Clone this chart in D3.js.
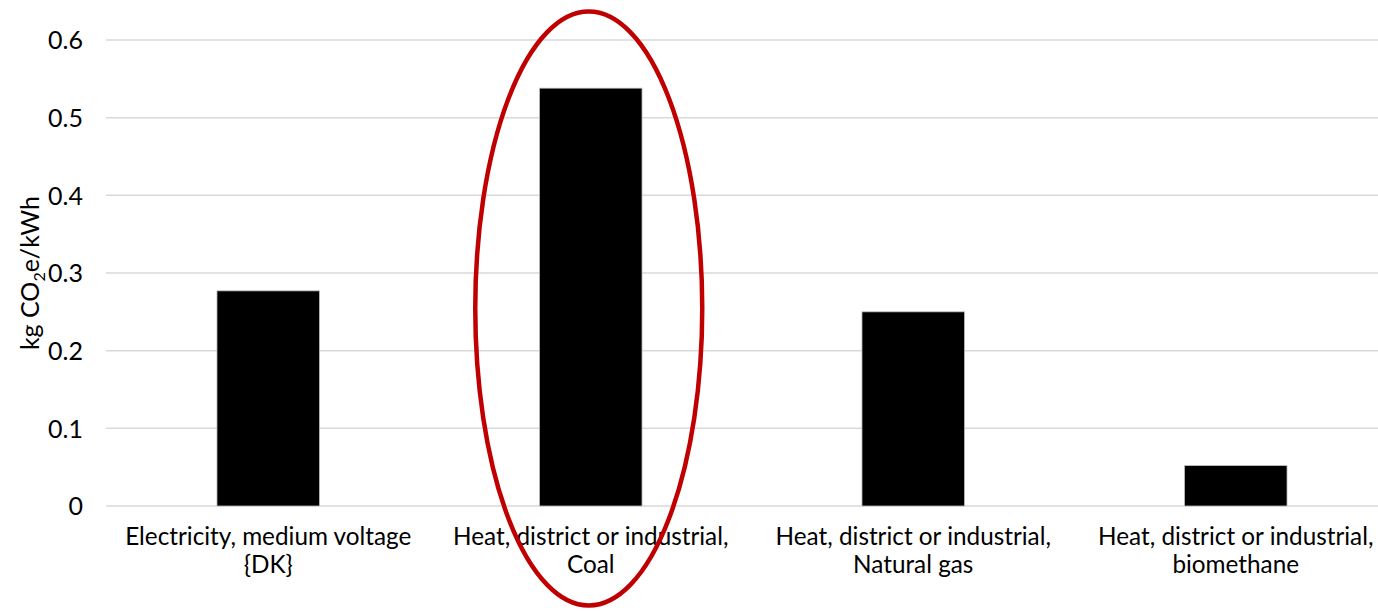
<!DOCTYPE html>
<html>
<head>
<meta charset="utf-8">
<script src="https://cdn.jsdelivr.net/npm/d3@7"></script>
<style>
  html, body { margin: 0; padding: 0; background: #fff; }
  svg { display: block; font-family: Lato, "Open Sans", sans-serif; }
</style>
</head>
<body>
<svg id="chart" width="1378" height="611"></svg>
<script>
// Emission factors, kg CO2e per kWh
const categories = [
  ["Electricity, medium voltage", "{DK}"],
  ["Heat, district or industrial,", "Coal"],
  ["Heat, district or industrial,", "Natural gas"],
  ["Heat, district or industrial,", "biomethane"]
];
const values = [0.277, 0.538, 0.250, 0.052];
const yTicks = [0, 0.1, 0.2, 0.3, 0.4, 0.5, 0.6];
const highlighted = 1; // category circled in red

const svg = d3.select("#chart");
const plot = { left: 107, right: 1397, top: 40, bottom: 506 };

const x = d3.scaleBand()
  .domain(d3.range(categories.length))
  .range([plot.left, plot.right])
  .paddingInner(0.682)
  .paddingOuter(0.341);

const y = d3.scaleLinear()
  .domain([0, 0.6])
  .range([plot.bottom, plot.top]);

// Horizontal gridlines
svg.append("g")
  .selectAll("line")
  .data(yTicks)
  .join("line")
  .attr("x1", plot.left - 1)
  .attr("x2", plot.right)
  .attr("y1", d => y(d))
  .attr("y2", d => y(d))
  .attr("stroke", "#d9d9d9")
  .attr("stroke-width", 1.5);

// Y axis tick labels
const yAxis = d3.axisLeft(y)
  .tickValues(yTicks)
  .tickFormat(d => d === 0 ? "0" : d3.format(".1f")(d))
  .tickSize(0)
  .tickPadding(0);

svg.append("g")
  .attr("transform", `translate(83,0)`)
  .call(yAxis)
  .call(g => g.select(".domain").remove())
  .call(g => g.selectAll("text")
    .attr("font-family", "Lato, sans-serif")
    .attr("font-size", 25)
    .attr("fill", "#000")
    .attr("dy", "0.35em"));

// Y axis title with subscript
const title = svg.append("text")
  .attr("transform", "translate(39,273) rotate(-90)")
  .attr("text-anchor", "middle")
  .attr("font-size", 25)
  .attr("fill", "#000");
title.append("tspan").text("kg CO");
title.append("tspan").attr("font-size", 16).attr("dy", 6).text("2");
title.append("tspan").attr("dy", -6).text("e/kWh");

// Bars
svg.append("g")
  .selectAll("rect")
  .data(values)
  .join("rect")
  .attr("x", (d, i) => x(i))
  .attr("width", x.bandwidth())
  .attr("y", d => y(d))
  .attr("height", d => y(0) - y(d))
  .attr("fill", "#000")
  .attr("stroke", "#bfbfbf")
  .attr("stroke-width", 0.8);

// Category labels, two lines each
const labels = svg.append("g")
  .selectAll("text")
  .data(categories)
  .join("text")
  .attr("x", (d, i) => x(i) + x.bandwidth() / 2)
  .attr("y", 545)
  .attr("text-anchor", "middle")
  .attr("font-size", 24.3)
  .attr("fill", "#000");
labels.selectAll("tspan")
  .data(d => d)
  .join("tspan")
  .attr("x", function() { return this.parentNode.getAttribute("x"); })
  .attr("dy", (d, i) => i === 0 ? 0 : 28)
  .text(d => d);

// Red ellipse around the highlighted category
const cx = x(highlighted) + x.bandwidth() / 2 - 2;
svg.append("ellipse")
  .attr("cx", cx)
  .attr("cy", 308.5)
  .attr("rx", 113.5)
  .attr("ry", 297)
  .attr("fill", "none")
  .attr("stroke", "#c00000")
  .attr("stroke-width", 4.5);
</script>
</body>
</html>
